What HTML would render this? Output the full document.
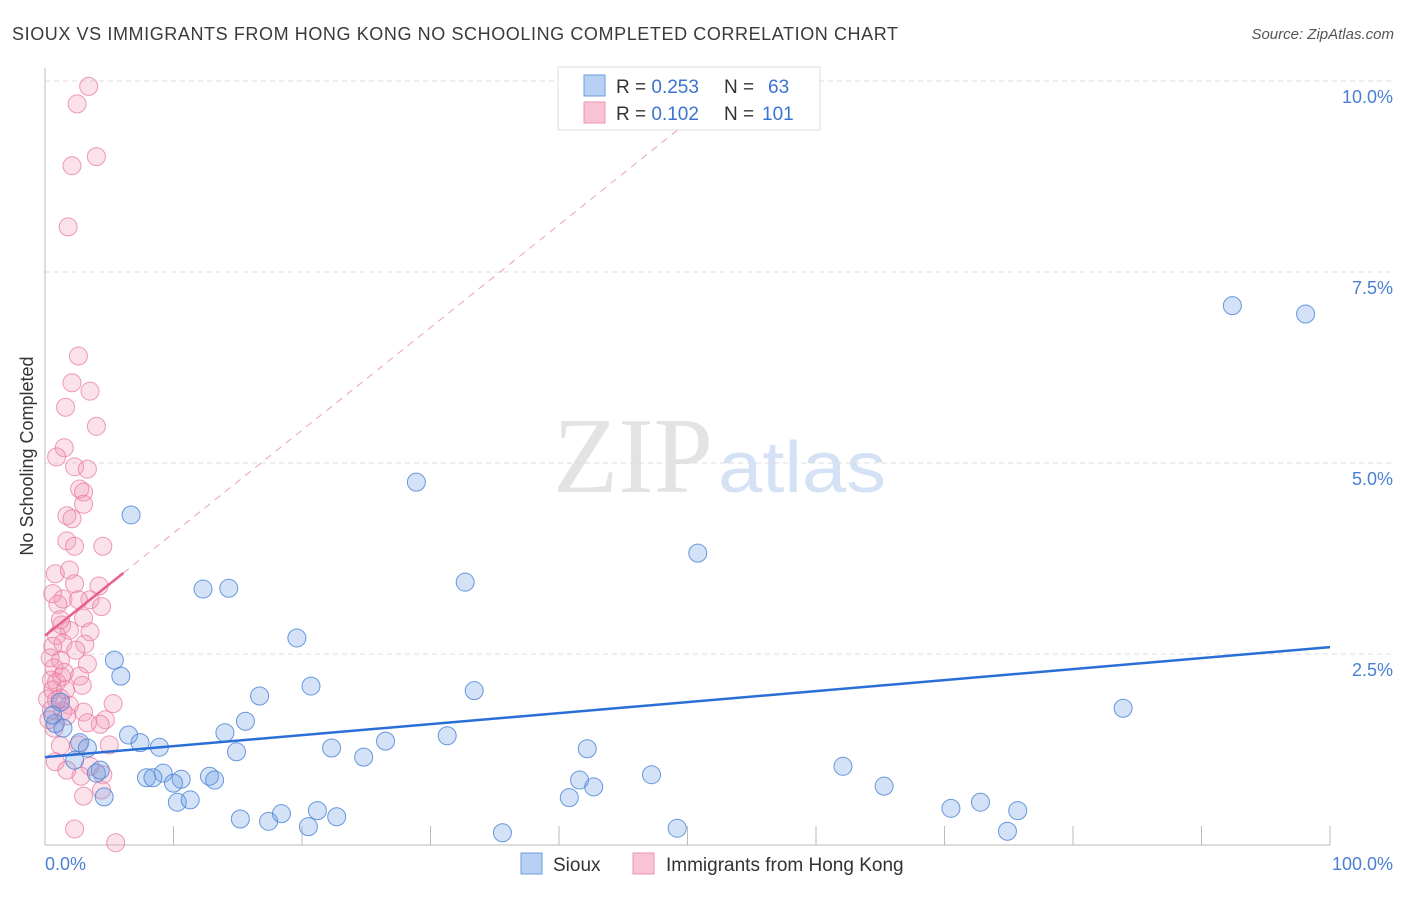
<!DOCTYPE html>
<html><head><meta charset="utf-8"><style>
body{margin:0;background:#fff;width:1406px;height:892px;overflow:hidden;font-family:"Liberation Sans",sans-serif}
</style></head><body>
<svg width="1406" height="892" xmlns="http://www.w3.org/2000/svg" font-family="Liberation Sans, sans-serif">
<text x="12" y="40" font-size="18" fill="#3a3a3a" textLength="886" lengthAdjust="spacing">SIOUX VS IMMIGRANTS FROM HONG KONG NO SCHOOLING COMPLETED CORRELATION CHART</text>
<text x="1394" y="39" font-size="15" font-style="italic" fill="#555" text-anchor="end">Source: ZipAtlas.com</text>
<g>
<text x="553" y="492" font-size="108" font-family="Liberation Serif, serif" fill="#e3e3e3" textLength="160" lengthAdjust="spacingAndGlyphs">ZIP</text>
<text x="718" y="492" font-size="72" fill="#d5e2f5" textLength="168" lengthAdjust="spacingAndGlyphs">atlas</text>
</g>
<g id="grid"></g>
<line x1="45" y1="68" x2="45" y2="845" stroke="#bbb"/>
<line x1="45" y1="845" x2="1330" y2="845" stroke="#bbb"/>
<g id="xticks"></g>
<text x="45" y="870" font-size="18" fill="#4a7fd4">0.0%</text>
<text x="1393" y="870" font-size="18" fill="#4a7fd4" text-anchor="end">100.0%</text>
<text transform="translate(33,456) rotate(-90)" font-size="18" fill="#333" text-anchor="middle">No Schooling Completed</text>
<g id="pink"></g>
<g id="blue"></g>
<g id="trends"></g>
<g>
<rect x="558" y="67" width="262" height="63" fill="#fff" stroke="#ddd"/>
<rect x="584" y="75" width="21" height="21" fill="#b8d0f3" stroke="#6c9ce0"/>
<rect x="584" y="102" width="21" height="21" fill="#f8c3d3" stroke="#eb93b0"/>
<text x="616" y="93" font-size="19" fill="#333">R = <tspan fill="#3b74d0">0.253</tspan><tspan x="724">N = </tspan><tspan x="768" fill="#3b74d0">63</tspan></text>
<text x="616" y="120" font-size="19" fill="#333">R = <tspan fill="#3b74d0">0.102</tspan><tspan x="724">N = </tspan><tspan x="762" fill="#3b74d0">101</tspan></text>
</g>
<g>
<rect x="521" y="853" width="21" height="21" fill="#b8d0f3" stroke="#6c9ce0"/>
<text x="553" y="871" font-size="19" fill="#333">Sioux</text>
<rect x="633" y="853" width="21" height="21" fill="#f8c3d3" stroke="#eb93b0"/>
<text x="666" y="871" font-size="19" fill="#333">Immigrants from Hong Kong</text>
</g>
</svg>
<script>
const yTicks=[2.5,5.0,7.5,10.0];
const yTickLabels=["2.5%","5.0%","7.5%","10.0%"];
const xTicks=[10,20,30,40,50,60,70,80,90,100];
const blueX=[92.4,98.1,28.9,50.8,6.7,12.3,14.3,32.7,19.6,5.4,5.9,20.7,33.4,16.7,83.9,15.6,14.0,6.5,31.3,26.5,7.4,8.9,22.3,42.2,14.9,24.8,2.7,1.4,3.3,2.3,62.1,47.2,41.6,42.7,65.3,9.2,7.9,8.4,10.6,10.0,12.8,13.2,4.0,4.6,10.3,11.3,70.5,72.8,75.7,15.2,17.4,18.4,21.2,22.7,20.5,35.6,49.2,74.9,40.8,0.8,1.2,0.6,4.3];
const blueY=[7.06,6.95,4.75,3.82,4.32,3.35,3.36,3.44,2.71,2.42,2.21,2.08,2.02,1.95,1.79,1.62,1.47,1.44,1.43,1.36,1.34,1.28,1.27,1.26,1.22,1.15,1.34,1.53,1.27,1.11,1.03,0.92,0.85,0.76,0.77,0.94,0.88,0.88,0.86,0.81,0.90,0.85,0.94,0.63,0.56,0.59,0.48,0.56,0.45,0.34,0.31,0.41,0.45,0.37,0.24,0.16,0.22,0.18,0.62,1.59,1.87,1.70,0.98];
const pinkX=[3.4,2.5,4.0,2.1,1.8,2.6,2.1,3.5,1.6,4.0,1.5,0.9,2.3,3.3,2.7,3.0,3.0,1.7,2.1,1.7,2.3,4.5,0.8,1.9,4.2,2.3,0.6,1.4,3.5,2.6,1.0,4.4,3.0,1.3,3.5,1.9,0.9,1.4,3.1,0.6,2.4,1.2,3.3,0.7,1.3,2.7,0.5,0.9,2.9,0.6,0.2,1.2,1.9,5.3,0.5,1.4,3.0,1.7,4.7,4.3,3.3,0.7,1.2,5.0,2.6,0.8,1.7,3.5,2.8,4.5,4.4,3.0,2.3,5.5,0.4,0.3,0.9,1.5,1.6,1.2];
const pinkY=[9.93,9.70,9.01,8.89,8.09,6.40,6.05,5.94,5.73,5.48,5.20,5.08,4.95,4.92,4.66,4.62,4.46,4.31,4.27,3.98,3.91,3.91,3.55,3.60,3.39,3.42,3.29,3.22,3.21,3.21,3.15,3.12,2.97,2.88,2.79,2.81,2.74,2.64,2.63,2.60,2.55,2.42,2.37,2.32,2.20,2.21,2.16,2.13,2.09,2.03,1.91,1.92,1.83,1.85,1.77,1.75,1.74,1.69,1.64,1.58,1.60,1.53,1.30,1.31,1.31,1.09,0.98,1.03,0.90,0.92,0.72,0.64,0.21,0.03,2.45,1.64,1.90,2.26,2.03,2.95];
const blueTrend=[[0,1.15],[100,2.59]];
const pinkTrend=[[0,2.74],[6.1,3.56]];
const pinkDash=[[6.1,3.56],[54,10]];
const sx=v=>45+v*12.85;
const sy=v=>845-v*76.4;
const NS="http://www.w3.org/2000/svg";
function mk(tag,attrs,parent){const e=document.createElementNS(NS,tag);for(const k in attrs)e.setAttribute(k,attrs[k]);document.getElementById(parent).appendChild(e);return e;}
yTicks.forEach((t,i)=>{
 const l=mk('line',{x1:45,x2:1393,y1:sy(t),y2:sy(t),stroke:'#ddd','stroke-dasharray':'5,4'},'grid');
 
 
 const tx=mk('text',{x:1393,y:sy(t)+22,'font-size':18,fill:'#4a7fd4','text-anchor':'end'},'grid');
 tx.textContent=yTickLabels[i];
 
 
});
xTicks.forEach(t=>{
 const l=mk('line',{x1:sx(t),x2:sx(t),y1:826,y2:845,stroke:'#bbb'},'xticks');
 
 
});
pinkX.forEach((x,i)=>{
 const c=mk('circle',{cx:sx(x),cy:sy(pinkY[i]),r:9,fill:'rgba(242,150,180,0.28)',stroke:'rgba(232,120,160,0.75)','stroke-width':1},'pink');
 
 
});
blueX.forEach((x,i)=>{
 const c=mk('circle',{cx:sx(x),cy:sy(blueY[i]),r:9,fill:'rgba(110,160,230,0.3)',stroke:'rgba(80,135,215,0.85)','stroke-width':1},'blue');
 
 
});
const d=mk('line',{x1:sx(pinkDash[0][0]),y1:sy(pinkDash[0][1]),x2:sx(pinkDash[1][0]),y2:sy(pinkDash[1][1]),stroke:'#eaa0b8','stroke-dasharray':'7,6','stroke-width':1},'trends');


const p=mk('line',{x1:sx(pinkTrend[0][0]),y1:sy(pinkTrend[0][1]),x2:sx(pinkTrend[1][0]),y2:sy(pinkTrend[1][1]),stroke:'#e8608a','stroke-width':2.5},'trends');


const b=mk('line',{x1:sx(blueTrend[0][0]),y1:sy(blueTrend[0][1]),x2:sx(blueTrend[1][0]),y2:sy(blueTrend[1][1]),stroke:'#2a6fd6','stroke-width':2.5},'trends');


</script>
</body></html>
